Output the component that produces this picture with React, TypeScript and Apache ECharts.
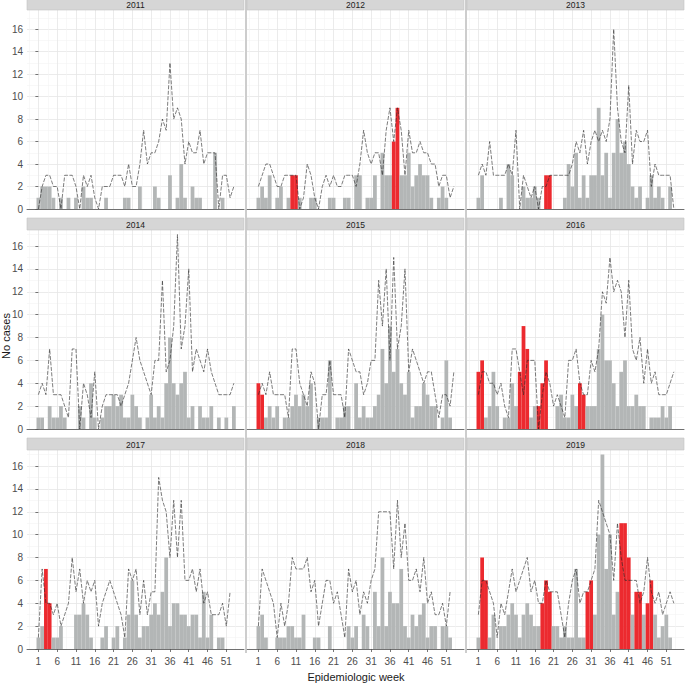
import React, { useEffect, useRef } from "react";
import * as echarts from "echarts";

// ---------- data ----------
const years = ["2011", "2012", "2013", "2014", "2015", "2016", "2017", "2018", "2019"];
const weekTickLabels = [1, 6, 11, 16, 21, 26, 31, 36, 41, 46, 51];
const yTickValues = [0, 2, 4, 6, 8, 10, 12, 14, 16];

// weekly cases (week 1..)
const cases2011 = [1,2,2,2,1,0,1,0,1,0, 1,0,2,1,1,0,0,0,1,0, 0,0,0,1,1,0,0,2,0,0, 0,2,1,0,0,3,0,1,4,1, 0,2,1,1,0,0,0,5,0,1, 0,0];
const cases2012 = [1,2,1,3,0,1,2,0,1,3, 3,1,0,0,1,1,0,0,0,1, 1,0,0,1,1,0,3,3,0,1, 1,3,0,5,3,3,6,9,3,3, 5,2,3,4,3,3,1,0,1,2, 1,0];
const cases2013 = [1,3,0,0,0,0,1,0,4,3, 0,0,2,1,1,2,1,0,3,3, 0,0,0,1,4,2,5,1,3,1, 3,3,9,3,5,1,5,8,5,6, 4,2,1,2,0,1,3,1,2,1, 0,2];
const cases2014 = [1,1,0,2,1,1,2,1,0,0, 0,2,1,0,4,1,0,1,2,2, 3,2,3,1,1,3,2,1,0,1, 3,1,2,1,4,8,4,3,4,5, 1,2,0,2,1,1,2,0,1,0, 1,0,2];
const cases2015 = [4,3,1,2,1,2,0,1,1,2, 3,2,3,2,4,0,1,1,1,6, 0,1,1,2,2,0,4,1,2,1, 1,2,3,7,4,9,5,7,4,3, 5,1,2,2,4,3,2,2,0,1, 6,1];
const cases2016 = [5,6,1,2,5,2,0,1,1,4, 2,5,9,7,1,2,2,4,6,0, 0,2,3,1,1,3,2,4,3,2, 2,2,7,10,6,6,4,2,5,6, 2,2,3,2,2,0,1,1,1,2, 1,2];
const cases2017 = [1,2,7,4,1,1,2,0,0,0, 3,3,4,3,1,0,0,1,2,0, 1,2,0,1,3,6,3,1,2,2, 3,4,3,5,8,2,4,4,3,3, 2,3,3,1,5,1,3,0,1,1, 0,0];
const cases2018 = [2,3,1,0,0,1,1,1,2,2, 1,1,3,0,0,1,1,0,0,2, 0,0,0,0,2,1,2,0,3,2, 0,5,2,8,2,5,4,4,7,2, 1,3,2,3,4,1,2,2,0,2, 2,1];
const cases2019 = [1,8,6,1,3,0,2,2,3,4, 3,1,3,4,3,2,2,4,6,5, 2,2,1,2,1,1,7,1,1,5, 6,3,10,17,7,10,3,5,11,11, 8,3,5,5,3,4,6,3,1,2, 3,1];

// epidemic threshold (week 1..)
const threshold2011 = [0,2,3,3,2,2,0,3,3,3, 2,0,3,2,3,1,0,2,2,2, 3,3,3,2,4,2,2,4,7,4, 5,5,6,8,7,13,8,9,8,4, 6,5,5,7,4,5,5,5,0,3, 3,1,2];
const threshold2012 = [2,3,4,4,3,2,2,3,3,3, 3,0,1,4,3,1,0,2,3,2, 3,2,2,3,3,3,2,4,7,5, 4,5,5,3,7,9,6,9,7,3, 7,5,5,6,5,5,4,4,2,3, 3,1,2];
const threshold2013 = [3,4,3,6,3,3,3,3,4,3, 7,0,3,2,1,2,0,2,2,3, 3,3,3,3,3,4,6,5,7,4, 6,7,6,7,6,8,16,9,6,5, 11,4,7,6,6,7,2,4,3,3, 3,3,0];
const threshold2014 = [3,4,3,7,3,3,3,2,1,7, 7,0,4,3,1,5,0,2,3,3, 3,3,2,3,4,6,8,6,5,4, 3,6,6,13,5,6,9,17,7,9, 14,5,7,6,5,7,5,4,3,3, 3,3,4];
const threshold2015 = [3,4,3,5,3,3,3,3,1,7, 7,4,3,2,5,4,0,3,3,6, 3,3,3,1,7,6,5,5,3,4, 6,6,13,9,14,6,15,7,9,14, 5,7,6,5,4,5,5,3,1,3, 3,2,5];
const threshold2016 = [3,5,5,4,4,3,4,2,1,7, 7,5,3,6,6,6,0,3,5,4, 2,3,2,1,6,6,7,4,3,3, 6,5,7,12,11,15,12,13,12,8, 13,7,6,8,4,7,4,5,3,3, 3,4,5];
const threshold2017 = [1,7,4,4,3,4,2,3,4,8, 5,7,4,6,5,6,2,4,5,6, 5,4,3,1,7,6,7,3,6,3, 5,5,15,13,12,8,13,8,13,6, 6,7,5,7,4,5,3,3,3,4, 2,5];
const threshold2018 = [2,7,6,5,4,1,4,2,4,8, 7,7,7,8,5,6,2,4,6,6, 4,5,3,1,7,5,6,3,5,4, 6,7,12,12,12,12,7,13,8,11, 6,6,7,5,8,4,5,3,3,4, 2,5];
const threshold2019 = [3,6,6,5,4,1,4,3,5,7, 5,6,7,8,5,6,4,4,6,5, 5,5,3,1,4,6,7,4,5,5, 6,7,13,12,11,10,6,11,8,6, 6,6,6,4,5,8,5,4,5,3, 4,5,4];

// weeks flagged as epidemic alert (red bars)
const alerts2011: number[] = [];
const alerts2012 = [10, 11, 37, 38];
const alerts2013 = [19, 20];
const alerts2014: number[] = [];
const alerts2015 = [1, 2];
const alerts2016 = [1, 2, 12, 13, 14, 17, 18, 19, 28, 29];
const alerts2017 = [3, 4];
const alerts2018: number[] = [];
const alerts2019 = [2, 3, 18, 19, 20, 30, 31, 39, 40, 41, 43, 44, 46, 47];

const casesByYear = [cases2011, cases2012, cases2013, cases2014, cases2015, cases2016, cases2017, cases2018, cases2019];
const thresholdByYear = [threshold2011, threshold2012, threshold2013, threshold2014, threshold2015, threshold2016, threshold2017, threshold2018, threshold2019];
const alertsByYear = [alerts2011, alerts2012, alerts2013, alerts2014, alerts2015, alerts2016, alerts2017, alerts2018, alerts2019];

// ---------- layout / style ----------
const FONT = '"Liberation Sans", Arial, Helvetica, sans-serif';
const COL_LEFT = [27, 247, 467];
const PANEL_W = 217;
const ROW_TOP = [10, 230, 450];
const PANEL_H = 199;
const ROW_YMAX = [17.7, 17.4, 17.4];
const STRIP_TOP = [-2, 218, 438];
const STRIP_H = 12;
// x axis in (week - 1) units so that ticks fall on weeks 1, 6, 11, ...
const X_MIN = -3.03;
const X_MAX = 54.7;
const BAR_W = PANEL_W / (X_MAX - X_MIN);
const GREY = "#b3b6b6";
const RED = "#ec2a2f";
const GRID_MAJOR = "#e6e6e6";
const GRID_MINOR = "#f3f3f3";

const xTickValues = weekTickLabels.map((w) => w - 1);

function isClose(a: number, b: number) {
  return Math.abs(a - b) < 1e-6;
}

function buildOption() {
  const grid: any[] = [];
  const xAxis: any[] = [];
  const yAxis: any[] = [];
  const series: any[] = [];
  const graphic: any[] = [];

  years.forEach((year, i) => {
    const row = Math.floor(i / 3);
    const col = i % 3;
    grid.push({
      left: COL_LEFT[col],
      top: ROW_TOP[row],
      width: PANEL_W,
      height: PANEL_H,
      containLabel: false,
    });
    xAxis.push({
      type: "value",
      gridIndex: i,
      min: X_MIN,
      max: X_MAX,
      minInterval: 5,
      maxInterval: 5,
      axisLine: { show: true, onZero: false, lineStyle: { color: "#707070", width: 1 } },
      axisTick: {
        show: row === 2,
        length: 3,
        customValues: xTickValues,
        lineStyle: { color: "#555", width: 0.8 },
      },
      axisLabel: {
        show: row === 2,
        customValues: xTickValues,
        fontFamily: FONT,
        fontSize: 10,
        color: "#4d4d4d",
        margin: 7,
        formatter: (v: number) => {
          const r = Math.round(v);
          return isClose(v, r) && weekTickLabels.includes(r + 1) ? String(r + 1) : "";
        },
      },
      splitLine: { show: true, lineStyle: { color: GRID_MAJOR, width: 0.8 } },
      minorTick: { show: false, splitNumber: 2 },
      minorSplitLine: { show: true, lineStyle: { color: GRID_MINOR, width: 0.6 } },
    });
    yAxis.push({
      type: "value",
      gridIndex: i,
      min: 0,
      max: ROW_YMAX[row],
      minInterval: 2,
      maxInterval: 2,
      axisLine: { show: false },
      axisTick: {
        show: col === 0,
        length: 3,
        customValues: yTickValues,
        lineStyle: { color: "#555", width: 0.8 },
      },
      axisLabel: {
        show: col === 0,
        customValues: yTickValues,
        fontFamily: FONT,
        fontSize: 10,
        color: "#4d4d4d",
        margin: 4,
        formatter: (v: number) => {
          const r = Math.round(v);
          return isClose(v, r) && yTickValues.includes(r) ? String(r) : "";
        },
      },
      splitLine: { show: true, lineStyle: { color: GRID_MAJOR, width: 0.8 } },
      minorTick: { show: false, splitNumber: 2 },
      minorSplitLine: { show: true, lineStyle: { color: GRID_MINOR, width: 0.6 } },
    });

    const cases = casesByYear[i];
    const alerts = alertsByYear[i];
    series.push({
      type: "bar",
      xAxisIndex: i,
      yAxisIndex: i,
      barWidth: BAR_W,
      z: 2,
      data: cases.map((v, k) => ({
        value: [k, v],
        itemStyle: { color: alerts.includes(k + 1) ? RED : GREY },
      })),
    });
    series.push({
      type: "line",
      xAxisIndex: i,
      yAxisIndex: i,
      symbol: "none",
      showSymbol: false,
      z: 5,
      lineStyle: { color: "#262626", width: 0.6, type: [4, 1.5] },
      data: thresholdByYear[i].map((v, k) => [k, v]),
    });

    // facet strip
    graphic.push({
      type: "rect",
      shape: { x: COL_LEFT[col], y: STRIP_TOP[row], width: PANEL_W, height: STRIP_H },
      style: { fill: "#d6d6d6", stroke: "#c4c4c4", lineWidth: 0.6 },
      z: 10,
    });
    graphic.push({
      type: "text",
      x: COL_LEFT[col] + PANEL_W / 2,
      y: STRIP_TOP[row] + STRIP_H / 2 + 0.5,
      style: {
        text: year,
        fontFamily: FONT,
        fontSize: 8.5,
        fill: "#1a1a1a",
        textAlign: "center",
        textVerticalAlign: "middle",
      },
      z: 11,
    });
  });

  // column separators
  [246, 466].forEach((x) => {
    graphic.push({
      type: "line",
      shape: { x1: x, y1: 0, x2: x, y2: 653 },
      style: { stroke: "#b8b8b8", lineWidth: 1.4 },
      z: 9,
    });
  });

  // axis titles
  graphic.push({
    type: "text",
    x: 6,
    y: 336,
    rotation: Math.PI / 2,
    style: {
      text: "No cases",
      fontFamily: FONT,
      fontSize: 11,
      fill: "#1a1a1a",
      textAlign: "center",
      textVerticalAlign: "middle",
    },
  });
  graphic.push({
    type: "text",
    x: 356,
    y: 677,
    style: {
      text: "Epidemiologic week",
      fontFamily: FONT,
      fontSize: 11,
      fill: "#1a1a1a",
      textAlign: "center",
      textVerticalAlign: "middle",
    },
  });

  return {
    animation: false,
    backgroundColor: "#ffffff",
    textStyle: { fontFamily: FONT },
    grid,
    xAxis,
    yAxis,
    series,
    graphic,
  };
}

export default function App() {
  const ref = useRef<HTMLDivElement | null>(null);
  useEffect(() => {
    if (!ref.current) return;
    const chart = echarts.init(ref.current, undefined, { renderer: "svg" });
    chart.setOption(buildOption() as any);
    return () => chart.dispose();
  }, []);
  return (
    <div
      ref={ref}
      style={{ position: "fixed", left: 0, top: 0, width: 685, height: 685, background: "#fff" }}
    />
  );
}
